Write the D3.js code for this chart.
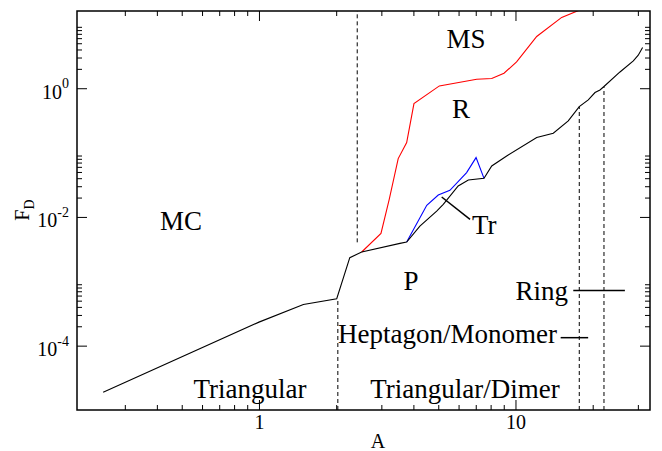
<!DOCTYPE html>
<html>
<head>
<meta charset="utf-8">
<script src="https://cdn.jsdelivr.net/npm/d3@7"></script>
<style>
  html, body { margin: 0; padding: 0; background: #fff; }
  svg { display: block; }
  text { font-family: "Liberation Serif", "Times New Roman", serif; fill: #000; }
</style>
</head>
<body>
<svg id="chart" width="662" height="451"></svg>
<script>
// ---------------- data ----------------
// Black boundary (P / R boundary and low-A curve): A values and F_D values
const blackA  = [0.247, 1.0, 1.49, 2.01, 2.26, 2.515, 3.545, 3.766, 4.24, 4.93, 5.23, 5.98, 6.55, 7.54, 8.08, 9.24, 12.1, 14.04, 16.06, 17.73, 19.22, 20.42, 21.35, 22.13, 25.55, 28.8, 30.1, 31.3];
const blackFD = [1.89e-5, 2.32e-4, 4.37e-4, 5.36e-4, 2.33e-3, 2.85e-3, 3.88e-3, 4.07e-3, 7.22e-3, 1.235e-2, 1.57e-2, 3.03e-2, 3.75e-2, 3.98e-2, 6.19e-2, 8.85e-2, 0.171, 0.200, 0.310, 0.519, 0.658, 0.857, 0.941, 1.063, 1.79, 2.66, 3.26, 4.30];
// Red boundary (R / MS)
const redA  = [2.515, 2.99, 3.22, 3.49, 3.766, 4.02, 5.05, 7.06, 8.08, 9.02, 10.1, 12.1, 15.14, 17.73];
const redFD = [2.85e-3, 5.56e-3, 1.88e-2, 8.07e-2, 0.143, 0.578, 1.086, 1.38, 1.415, 1.71, 2.56, 6.37, 12.6, 16.3];
// Blue boundary (Tr region)
const blueA  = [3.766, 4.51, 5.0, 5.55, 6.45, 7.02, 7.54];
const blueFD = [4.07e-3, 1.515e-2, 2.19e-2, 2.59e-2, 4.89e-2, 8.36e-2, 3.98e-2];
// Dashed vertical separators: A value, F_D from, F_D to
const dashA    = [2.416, 2.03, 17.73, 22.13];
const dashFrom = [4.03e-3, 1e-5, 1e-5, 1e-5];
const dashTo   = [15.85, 5.36e-4, 0.519, 1.063];
// Tick values
const xMajor = [1, 10];
const xMinor = [0.3, 0.4, 0.5, 0.6, 0.7, 0.8, 0.9, 2, 3, 4, 5, 6, 7, 8, 9, 20, 30];
const yMajor = [1e-4, 1e-2, 1];
const yMinor = [2e-4,3e-4,4e-4,5e-4,6e-4,7e-4,8e-4,9e-4, 2e-2,3e-2,4e-2,5e-2,6e-2,7e-2,8e-2,9e-2, 2,3,4,5,6,7,8,9];
// Region labels
const labelText = ["MC", "MS", "R", "P", "Tr", "Ring", "Heptagon/Monomer", "Triangular", "Triangular/Dimer"];
const labelA    = [0.4965, 6.41, 6.13, 3.914, 6.77, 16.02, 14.52, 0.922, 6.36];
const labelFD   = [6.27e-3, 4.22, 0.344, 7.33e-4, 5.43e-3, 5.12e-4, 1.10e-4, 1.536e-5, 1.536e-5];
const labelAnchor = ["middle", "middle", "middle", "middle", "start", "end", "end", "middle", "middle"];
// Pointer lines (Tr pointer, Ring marker, Heptagon/Monomer marker)
const ptrA1  = [5.157, 16.8, 15.0];
const ptrFD1 = [2.04e-2, 7.22e-4, 1.33e-4];
const ptrA2  = [6.65, 26.7, 19.2];
const ptrFD2 = [9.18e-3, 7.22e-4, 1.33e-4];

// ---------------- layout ----------------
const svg = d3.select("#chart");
const L = 77, R = 650, T = 11, B = 410;
const x = d3.scaleLog().domain([0.1953, 33.45]).range([L, R]);
const y = d3.scaleLog().domain([1e-5, Math.pow(10, 1.2)]).range([B, T]);

svg.append("defs").append("clipPath").attr("id", "clip")
  .append("rect").attr("x", L).attr("y", T).attr("width", R - L).attr("height", B - T);

const plot = svg.append("g").attr("clip-path", "url(#clip)");

function line(A, F) {
  return d3.line().x(d => x(d[0])).y(d => y(d[1]))(A.map((a, i) => [a, F[i]]));
}

// dashed separators
dashA.forEach((a, i) => {
  plot.append("line")
    .attr("x1", x(a)).attr("x2", x(a))
    .attr("y1", y(dashFrom[i])).attr("y2", y(dashTo[i]))
    .attr("stroke", "#000").attr("stroke-width", 1).attr("stroke-dasharray", "4,3");
});

plot.append("path").attr("d", line(redA, redFD)).attr("fill", "none").attr("stroke", "#ff0000").attr("stroke-width", 1.1);
plot.append("path").attr("d", line(blueA, blueFD)).attr("fill", "none").attr("stroke", "#0000ff").attr("stroke-width", 1.1);
plot.append("path").attr("d", line(blackA, blackFD)).attr("fill", "none").attr("stroke", "#000").attr("stroke-width", 1.1);

ptrA1.forEach((a, i) => {
  plot.append("line")
    .attr("x1", x(a)).attr("y1", y(ptrFD1[i]))
    .attr("x2", x(ptrA2[i])).attr("y2", y(ptrFD2[i]))
    .attr("stroke", "#000").attr("stroke-width", 1.5);
});

// labels
labelText.forEach((t, i) => {
  svg.append("text")
    .attr("x", x(labelA[i])).attr("y", y(labelFD[i]))
    .attr("text-anchor", labelAnchor[i])
    .attr("font-size", 27)
    .text(t);
});

// ---------------- axes ----------------
function styleAxis(g) {
  g.select(".domain").remove();
  g.selectAll(".tick line").attr("stroke", "#000").attr("stroke-width", 1);
  g.selectAll("text").attr("font-family", "Liberation Serif, serif").attr("font-size", 20).attr("fill", "#000");
}

const xb = svg.append("g").attr("transform", `translate(0,${B})`)
  .call(d3.axisBottom(x).tickValues(xMajor).tickSize(-10).tickPadding(5).tickFormat(d3.format("d")));
styleAxis(xb);
const xbm = svg.append("g").attr("transform", `translate(0,${B})`)
  .call(d3.axisBottom(x).tickValues(xMinor).tickSize(-5).tickFormat(""));
styleAxis(xbm);
const xt = svg.append("g").attr("transform", `translate(0,${T})`)
  .call(d3.axisTop(x).tickValues(xMajor).tickSize(-10).tickFormat(""));
styleAxis(xt);
const xtm = svg.append("g").attr("transform", `translate(0,${T})`)
  .call(d3.axisTop(x).tickValues(xMinor).tickSize(-5).tickFormat(""));
styleAxis(xtm);

const yl = svg.append("g").attr("transform", `translate(${L},0)`)
  .call(d3.axisLeft(y).tickValues(yMajor).tickSize(-10).tickPadding(8));
styleAxis(yl);
yl.selectAll(".tick text").each(function(d) {
  const t = d3.select(this);
  t.text(null).attr("dy", "0.5em");
  t.append("tspan").text("10");
  t.append("tspan").attr("dy", "-0.75em").attr("font-size", 14).text(String(Math.round(Math.log10(d))));
});
const ylm = svg.append("g").attr("transform", `translate(${L},0)`)
  .call(d3.axisLeft(y).tickValues(yMinor).tickSize(-5).tickFormat(""));
styleAxis(ylm);
const yr = svg.append("g").attr("transform", `translate(${R},0)`)
  .call(d3.axisRight(y).tickValues(yMajor).tickSize(-10).tickFormat(""));
styleAxis(yr);
const yrm = svg.append("g").attr("transform", `translate(${R},0)`)
  .call(d3.axisRight(y).tickValues(yMinor).tickSize(-5).tickFormat(""));
styleAxis(yrm);

// frame
svg.append("rect").attr("x", L).attr("y", T).attr("width", R - L).attr("height", B - T)
  .attr("fill", "none").attr("stroke", "#000").attr("stroke-width", 1.5);

// axis titles
svg.append("text").attr("x", 378).attr("y", 448).attr("text-anchor", "middle").attr("font-size", 20).text("A");
const yt = svg.append("text").attr("transform", "translate(29,210) rotate(-90)").attr("text-anchor", "middle").attr("font-size", 20);
yt.append("tspan").text("F");
yt.append("tspan").attr("dy", "0.35em").attr("font-size", 14).text("D");
</script>
</body>
</html>
